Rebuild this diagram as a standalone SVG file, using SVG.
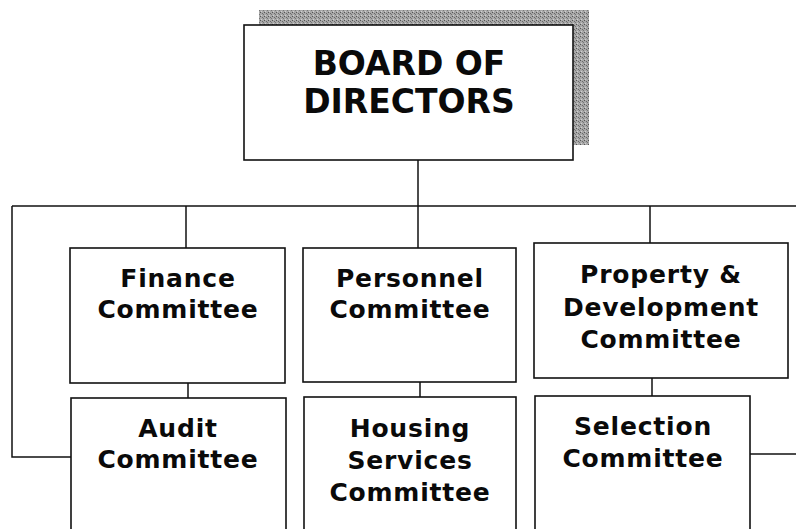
<svg xmlns="http://www.w3.org/2000/svg" width="796" height="529" viewBox="0 0 796 529">
<defs>
<pattern id="dots" width="4" height="4" patternUnits="userSpaceOnUse">
<rect width="4" height="4" fill="#a8a8a8"/>
<rect x="0" y="0" width="1" height="1" fill="#555"/>
<rect x="2" y="1" width="1" height="1" fill="#6a6a6a"/>
<rect x="1" y="3" width="1" height="1" fill="#d0d0d0"/>
<rect x="3" y="2" width="1" height="1" fill="#777"/>
</pattern>
</defs>
<style>
.box{fill:#fff;stroke:#111;stroke-width:1.6}
.ln{fill:none;stroke:#111;stroke-width:1.5}
.t{font-family:"DejaVu Sans",Verdana,sans-serif;font-weight:bold;fill:#0a0a0a;text-anchor:middle}
.big{font-size:33px}
.sm{font-size:25px;letter-spacing:0.8px}
</style>
<rect width="796" height="529" fill="#fff"/>
<g id="connectors">
<path class="ln" d="M418,160 V206"/>
<path class="ln" d="M12,206 H796"/>
<path class="ln" d="M186,206 V248"/>
<path class="ln" d="M418,206 V248"/>
<path class="ln" d="M650,206 V243"/>
<path class="ln" d="M12,206 V457 H71"/>
<path class="ln" d="M188,383 V398"/>
<path class="ln" d="M420,382 V397"/>
<path class="ln" d="M652,378 V396"/>
<path class="ln" d="M750,454 H796"/>
</g>
<g id="board">
<rect x="259" y="10" width="330" height="135" fill="url(#dots)"/>
<rect class="box" x="244" y="25" width="329" height="135"/>
<text class="t big" x="409" y="75">BOARD OF</text>
<text class="t big" x="409" y="113">DIRECTORS</text>
</g>
<g id="finance">
<rect class="box" x="70" y="248" width="215" height="135"/>
<text class="t sm" x="178" y="287">Finance</text>
<text class="t sm" x="178" y="318">Committee</text>
</g>
<g id="personnel">
<rect class="box" x="303" y="248" width="213" height="134"/>
<text class="t sm" x="410" y="287">Personnel</text>
<text class="t sm" x="410" y="318">Committee</text>
</g>
<g id="property">
<rect class="box" x="534" y="243" width="254" height="135"/>
<text class="t sm" x="661" y="283">Property &amp;</text>
<text class="t sm" x="661" y="316">Development</text>
<text class="t sm" x="661" y="348">Committee</text>
</g>
<g id="audit">
<rect class="box" x="71" y="398" width="215" height="140"/>
<text class="t sm" x="178" y="437">Audit</text>
<text class="t sm" x="178" y="468">Committee</text>
</g>
<g id="housing">
<rect class="box" x="304" y="397" width="212" height="140"/>
<text class="t sm" x="410" y="437">Housing</text>
<text class="t sm" x="410" y="469">Services</text>
<text class="t sm" x="410" y="501">Committee</text>
</g>
<g id="selection">
<rect class="box" x="535" y="396" width="215" height="140"/>
<text class="t sm" x="643" y="435">Selection</text>
<text class="t sm" x="643" y="467">Committee</text>
</g>
</svg>
